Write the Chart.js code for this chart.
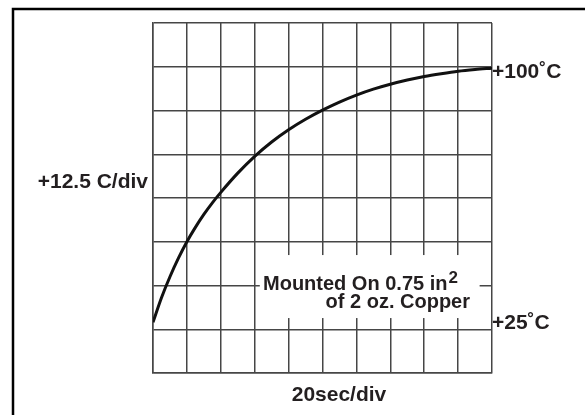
<!DOCTYPE html>
<html>
<head>
<meta charset="utf-8">
<script src="https://cdn.jsdelivr.net/npm/chart.js@4.4.1/dist/chart.umd.min.js"></script>
<style>
  html, body { margin: 0; padding: 0; background: #fff; }
  #wrap { width: 585px; height: 415px; }
</style>
</head>
<body>
<div id="wrap"><canvas id="thermalChart" width="585" height="415"></canvas></div>
<script>
// time after power-on (s) and case temperature (C)
const timeSec = [0, 5, 10, 15, 20, 25, 30, 35, 40, 50, 60, 70, 80, 90, 100, 110, 120, 130, 140, 150, 160, 170, 180, 190, 200];
const tempC = [27, 34, 40, 45.3, 50, 54.1, 57.8, 61.1, 64.1, 69.6, 74.4, 78.5, 82, 85, 87.6, 89.9, 91.9, 93.6, 95, 96.2, 97.2, 98, 98.7, 99.2, 99.6];

// axis divisions: 20 s/div, 12.5 C/div
const xDiv = 20;
const xMax = 200;
const yDiv = 12.5;
const yMin = 12.5;
const yMax = 112.5;

const axisLabels = {
    y: '+12.5 C/div',
    x: '20sec/div',
    top: '+100\u02DAC',
    bottom: '+25\u02DAC'
};
const noteLines = ['Mounted On 0.75 in', 'of 2 oz. Copper'];

const textColor = '#231f20';
const gridColor = '#464646';
const labelFont = 'bold 21px "Liberation Sans", Arial, sans-serif';
const noteFont = 'bold 20px "Liberation Sans", Arial, sans-serif';

// outer frame, white note box and the text labels
const decorPlugin = {
    id: 'decor',
    beforeDraw(chart) {
        const c = chart.ctx;
        c.save();
        c.fillStyle = '#fff';
        c.fillRect(0, 0, chart.width, chart.height);
        c.strokeStyle = '#000';
        c.lineWidth = 2.5;
        c.strokeRect(13, 9, chart.width, chart.height);
        c.restore();
    },
    beforeDatasetsDraw(chart) {
        // white patch behind the note, hides the grid there
        const c = chart.ctx;
        const x = chart.scales.x, y = chart.scales.y;
        const left = x.getPixelForValue(63), right = x.getPixelForValue(192.7);
        const top = y.getPixelForValue(46.2), bottom = y.getPixelForValue(28.2);
        c.save();
        c.fillStyle = '#fff';
        c.fillRect(left, top, right - left, bottom - top);
        c.restore();
    },
    afterDraw(chart) {
        const c = chart.ctx;
        const area = chart.chartArea;
        const y = chart.scales.y;
        c.save();
        c.fillStyle = textColor;
        c.font = labelFont;

        c.textAlign = 'right';
        c.fillText(axisLabels.y, area.left - 5, 188);

        c.textAlign = 'left';
        c.fillText(axisLabels.top, area.right, y.getPixelForValue(100) + 11);
        c.fillText(axisLabels.bottom, area.right, y.getPixelForValue(25));

        c.textAlign = 'center';
        c.fillText(axisLabels.x, 339, 401);

        c.font = noteFont;
        c.textAlign = 'left';
        c.fillText(noteLines[0], 263, 290);
        const w = c.measureText(noteLines[0]).width;
        c.font = 'bold 17px "Liberation Sans", Arial, sans-serif';
        c.fillText('2', 263 + w + 1, 283);
        c.font = noteFont;
        c.textAlign = 'right';
        c.fillText(noteLines[1], 470, 308);
        c.restore();
    }
};

const ctx = document.getElementById('thermalChart').getContext('2d');

new Chart(ctx, {
    type: 'line',
    data: {
        datasets: [{
            data: timeSec.map((t, i) => ({ x: t, y: tempC[i] })),
            borderColor: '#111',
            borderWidth: 3,
            pointRadius: 0,
            fill: false,
            cubicInterpolationMode: 'monotone'
        }]
    },
    options: {
        responsive: false,
        animation: false,
        events: [],
        layout: {
            padding: { left: 153, right: 93, top: 23, bottom: 42 }
        },
        plugins: {
            legend: { display: false },
            tooltip: { enabled: false }
        },
        scales: {
            x: {
                type: 'linear',
                min: 0,
                max: xMax,
                ticks: { display: false, stepSize: xDiv },
                grid: { color: gridColor, lineWidth: 1.5, drawTicks: false },
                border: { display: true, color: gridColor, width: 1.5 }
            },
            y: {
                type: 'linear',
                min: yMin,
                max: yMax,
                ticks: { display: false, stepSize: yDiv },
                grid: { color: gridColor, lineWidth: 1.5, drawTicks: false },
                border: { display: true, color: gridColor, width: 1.5 }
            }
        }
    },
    plugins: [decorPlugin]
});
</script>
</body>
</html>
